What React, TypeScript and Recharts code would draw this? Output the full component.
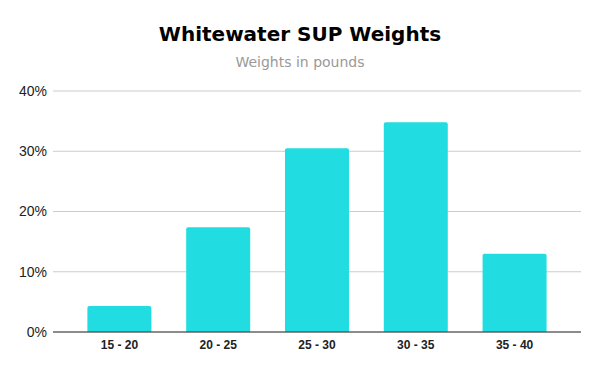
import { Bar, BarChart, CartesianGrid, XAxis, YAxis } from 'recharts';

const ranges = ['15 - 20', '20 - 25', '25 - 30', '30 - 35', '35 - 40'];
const shares = [4.3, 17.4, 30.5, 34.8, 13.0];
const yTicks = [0, 10, 20, 30, 40];

const data = ranges.map((range, i) => ({ range, share: shares[i] }));

export default function App() {
  return (
    <div style={{ position: 'absolute', left: 0, top: 0, width: 600, height: 371, background: '#fff' }}>
      <div
        style={{
          position: 'absolute', left: 0, top: 22, width: 600, textAlign: 'center',
          fontFamily: 'DejaVu Sans', fontWeight: 'bold', fontSize: 20, color: '#000', lineHeight: '24px'
        }}
      >
        Whitewater SUP Weights
      </div>
      <div
        style={{
          position: 'absolute', left: 0, top: 53, width: 600, textAlign: 'center',
          fontFamily: 'DejaVu Sans', fontSize: 14, color: '#999', lineHeight: '18px'
        }}
      >
        Weights in pounds
      </div>
      <BarChart
        width={600}
        height={371}
        data={data}
        margin={{ top: 91, right: 19, bottom: 9, left: 0 }}
        barCategoryGap="17.6%"
      >
        <CartesianGrid vertical={false} stroke="#cccccc" />
        <XAxis
          dataKey="range"
          height={30}
          axisLine={{ stroke: '#333333' }}
          tickLine={false}
          tickSize={0}
          tickMargin={8}
          padding={{ left: 17, right: 17 }}
          tick={{ fill: '#222222', fontSize: 12, fontWeight: 'bold', fontFamily: 'Liberation Sans' }}
        />
        <YAxis
          width={53}
          domain={[0, 40]}
          ticks={yTicks}
          tickFormatter={(v) => `${v}%`}
          axisLine={false}
          tickLine={false}
          tickSize={0}
          tickMargin={6}
          tick={{ fill: '#222222', fontSize: 14, fontFamily: 'Liberation Sans' }}
        />
        <Bar dataKey="share" fill="#21dde1" radius={[2, 2, 0, 0]} isAnimationActive={false} />
      </BarChart>
    </div>
  );
}
